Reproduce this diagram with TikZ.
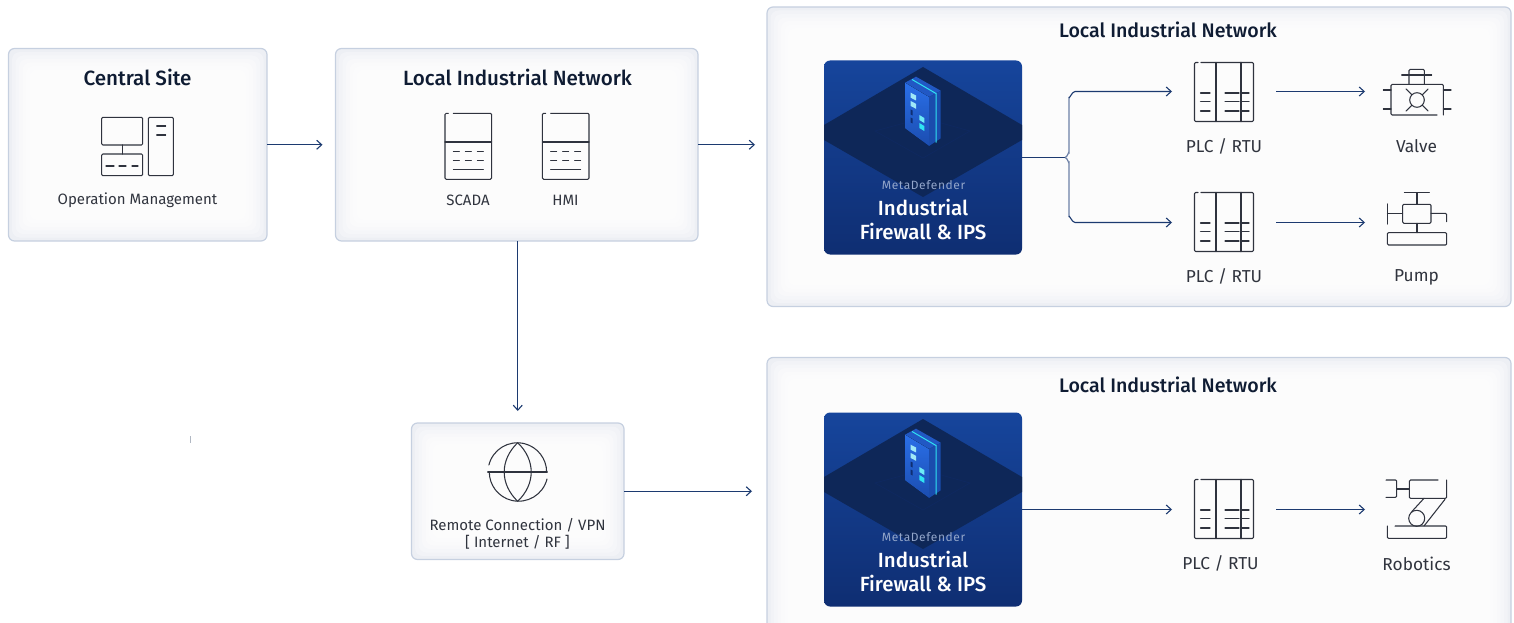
\documentclass[tikz,border=0pt]{standalone}
\usepackage{fontspec}
\usetikzlibrary{arrows.meta,calc}
\setmainfont{Fira Sans}
\newfontfamily\titlefont{Fira Sans Medium}
\definecolor{edgeblue}{HTML}{C6D0E0}
\definecolor{paneltone}{HTML}{EDEFF4}
\definecolor{flow}{HTML}{1C3A70}
\definecolor{flowlight}{HTML}{6C80A6}
\definecolor{ink}{HTML}{2F333E}
\definecolor{titleink}{HTML}{0F1C33}
\definecolor{labelink}{HTML}{30343E}
\definecolor{cardtop}{HTML}{16459C}
\definecolor{cardbot}{HTML}{0F2E72}
\definecolor{diamondc}{HTML}{0E2758}
\definecolor{mdgrey}{HTML}{93A6CA}
\definecolor{cy}{HTML}{2FE3F2}
\definecolor{faceL}{HTML}{2A6FE8}
\definecolor{faceLb}{HTML}{1B4DB0}
\definecolor{faceT}{HTML}{2158C4}
\definecolor{faceR}{HTML}{1A4CAD}
\definecolor{sqlight}{HTML}{9FE8F8}
\tikzset{
  softpanel/.style={draw=edgeblue,line width=1.2pt,fill=paneltone,rounded corners=6pt,inner sep=0pt,outer sep=0pt},
  cardbox/.style={rounded corners=6pt,inner sep=0pt,outer sep=0pt,top color=cardtop,bottom color=cardbot,minimum width=198pt,minimum height=194pt},
  iconnode/.style={inner sep=0pt,outer sep=0pt,minimum width=#1,minimum height=#1},
  iconline/.style={draw=ink,line width=1.05pt,line cap=round,line join=round,rounded corners=1.2pt},
  flowarrow/.style={draw=flow,line width=1.1pt,-{Straight Barb[length=5pt,width=9pt,line width=1.1pt]}},
  titletext/.style={text=titleink,font=\titlefont\fontsize{#1}{#1}\selectfont,inner sep=0pt},
  labeltext/.style={text=labelink,font=\fontsize{15}{15}\selectfont,inner sep=0pt},
  biglabel/.style={text=labelink,font=\fontsize{17.3}{17.3}\selectfont,inner sep=0pt},
}
\newcommand\softbox[5]{%
  \node[softpanel,minimum width={#4-#2},minimum height={#5-#3}] (#1) at ({(#2+#4)/2},{(#3+#5)/2}) {};
  \foreach \stepn [evaluate=\stepn as \ins using 3.5*\stepn] in {1,...,9}
    \fill[white,opacity=.3,rounded corners=8pt] ([shift={(\ins,\ins)}]#1.north west) rectangle ([shift={(-\ins,-\ins)}]#1.south east);
}
\newcommand\plcicon[1]{\begin{scope}[shift={(#1)}]
  \draw[iconline] (-26,-29.5) -- (-29.5,-29.5) -- (-29.5,29.5) -- (29.5,29.5) -- (29.5,-29.5) -- (-23,-29.5);
  \draw[iconline,rounded corners=0pt] (-8,-29.5) -- (-8,29.5);
  \draw[iconline,rounded corners=0pt,line width=1.5pt] (17,-29.5) -- (17,29.5);
  \foreach \yy in {1,9.5,19}{
    \draw[iconline] (-23.5,\yy) -- (-14,\yy);
    \draw[iconline] (1,\yy) -- (15,\yy);
    \draw[iconline] (17,\yy) -- (25,\yy);}
\end{scope}}
\newcommand\servericon[1]{\begin{scope}[shift={(#1)}]
  \draw[iconline] (-20,-33) -- (-23.3,-33) -- (-23.3,33) -- (23.3,33) -- (23.3,-33) -- (-15,-33);
  \draw[iconline,rounded corners=0pt] (-23.3,-4.3) -- (23.3,-4.3);
  \foreach \yy in {5,14}{
    \draw[iconline] (-15,\yy) -- (-9,\yy);
    \draw[iconline] (-3,\yy) -- (3,\yy);
    \draw[iconline] (9,\yy) -- (15,\yy);}
  \draw[iconline] (-15,23.3) -- (15,23.3);
\end{scope}}
\newcommand\fwcard[2]{\begin{scope}[shift={(0,#2)}]
  \node[cardbox] (#1) at (923,157.5) {};
  \fill[diamondc] (923,67) -- (1022,125) -- (1022,140) -- (923,197) -- (824,140) -- (824,125) -- cycle;
  \draw[draw=diamondc!65!cardbot,line width=.6pt] (923,118) -- (970,131) -- (923,158) -- (875,131) -- cycle;
  % server
  \fill[faceT] (916,76.7) -- (940.7,90.7) -- (929,97) -- (905,82.7) -- cycle;
  \fill[top color=faceL,bottom color=faceLb] (905,82.7) -- (929,97) -- (929,146) -- (905,128.3) -- cycle;
  \fill[faceR] (929,97) -- (940.7,90.7) -- (940.7,138.3) -- (929,146) -- cycle;
  \draw[cy,line width=1pt] (912,79.5) -- (936,93.5) -- (936,142.5);
  \fill[sqlight] (910.7,92.7) -- (916,95.5) -- (916,100.5) -- (910.7,97.7) -- cycle;
  \fill[sqlight] (910.7,101) -- (916,103.8) -- (916,108.8) -- (910.7,106) -- cycle;
  \fill[cardbot] (910.7,109.5) -- (912.7,110.5) -- (912.7,115.5) -- (910.7,114.5) -- cycle;
  \fill[cardbot] (910.7,117.5) -- (912.7,118.5) -- (912.7,123.5) -- (910.7,122.5) -- cycle;
  \fill[cy!70!white] (919.3,115) -- (924.3,118) -- (924.3,123) -- (919.3,120) -- cycle;
  \fill[cy] (919.3,123) -- (924.3,126) -- (924.3,131) -- (919.3,128) -- cycle;
  \node[text=mdgrey,font=\fontsize{12}{12}\selectfont\addfontfeature{LetterSpace=5},inner sep=0pt] (#1meta) at (923.5,185.5) {MetaDefender};
  \node[text=white,font=\titlefont\fontsize{20.5}{20.5}\selectfont,inner sep=0pt] (#1ta) at (923,207.5) {Industrial};
  \node[text=white,font=\titlefont\fontsize{20.5}{20.5}\selectfont,inner sep=0pt] (#1tb) at (923,231.5) {Firewall \& IPS};
\end{scope}}
\begin{document}
\begin{tikzpicture}[x=1pt,y=-1pt]
\useasboundingbox (0,0) rectangle (1514,623);
\clip (0,0) rectangle (1514,623);
\softbox{central}{8.5}{48.5}{267}{241}
\softbox{local}{335.5}{48.5}{698}{241}
\softbox{remote}{411.5}{423}{624}{559.5}
\softbox{panelA}{767}{7}{1511}{306.5}
\softbox{panelB}{767}{357.5}{1511}{660}
% titles
\node[titletext=20.6] (tcentral) at (137.5,77.5) {Central Site};
\node[titletext=20.6] (tlocal) at (517.5,77.5) {Local Industrial Network};
\node[titletext=19.6] (tpanelA) at (1168,30) {Local Industrial Network};
\node[titletext=19.6] (tpanelB) at (1168,385) {Local Industrial Network};
% operation management icon
\node[iconnode=60pt] (ops) at (137.5,146.5) {};
\draw[iconline] (101.7,117.3) rectangle (142.7,145);
\draw[iconline] (122.3,145) -- (122.3,154);
\draw[iconline] (101.7,154) rectangle (142.7,175.7);
\foreach \xa/\xb in {106/114,119/126,132/138} \draw[iconline] (\xa,166) -- (\xb,166);
\draw[iconline] (148.3,117.3) rectangle (173.3,175.7);
\draw[iconline] (156.7,126) -- (165.7,126);
\draw[iconline] (156.7,135) -- (165.7,135);
\node[labeltext] (lops) at (137.5,200.5) {Operation Management};
% SCADA / HMI
\node[iconnode=60pt] (scada) at (468.3,146.3) {};
\servericon{468.3,146.3}
\node[iconnode=60pt] (hmi) at (565.7,146.3) {};
\servericon{565.7,146.3}
\node[labeltext] (lscada) at (468,200) {SCADA};
\node[labeltext] (lhmi) at (565.5,200) {HMI};
% globe
\node[iconnode=60pt] (globe) at (517.7,472) {};
\draw[iconline] (488.9,465) arc[start angle=194,end angle=360,radius=29.3];
\draw[iconline] (547,479) arc[start angle=14,end angle=180,radius=29.3];
\draw[iconline] (487.7,472) -- (547.3,472);
\draw[iconline] (517.7,442.7) .. controls (499.7,460) and (499.7,484) .. (517.7,501.3);
\draw[iconline] (517.7,442.7) .. controls (535.7,460) and (535.7,484) .. (517.7,501.3);
\node[labeltext] (lremote) at (517.5,525.5) {Remote Connection / VPN};
\node[labeltext] (lremoteb) at (517.5,542.5) {[ Internet / RF ]};
% firewall cards
\fwcard{cardA}{0}
\fwcard{cardB}{352}
% PLC icons
\node[iconnode=60pt] (plcA) at (1224,91.5) {};
\plcicon{1224,92}
\node[iconnode=60pt] (plcB) at (1224,222.5) {};
\plcicon{1224,222}
\node[iconnode=60pt] (plcC) at (1224,509.5) {};
\plcicon{1224,509}
\node[biglabel] (lplcA) at (1224,146.5) {PLC / RTU};
\node[biglabel] (lplcB) at (1224,276.5) {PLC / RTU};
\node[biglabel] (lplcC) at (1220.5,563.5) {PLC / RTU};
% valve
\node[iconnode=60pt] (valve) at (1417,91.5) {};
\draw[iconline] (1437,115) -- (1391,115) -- (1391,84.3) -- (1443.3,84.3) -- (1443.3,115);
\draw[iconline] (1383.3,90) -- (1391,90);
\draw[iconline] (1383.3,109) -- (1391,109);
\draw[iconline] (1443.3,90) -- (1451,90);
\draw[iconline] (1443.3,109) -- (1451,109);
\draw[iconline] (1401.7,75) -- (1431.7,75);
\draw[iconline] (1409,84.3) -- (1409,69.3) -- (1424.3,69.3) -- (1424.3,84.3);
\draw[iconline] (1417,100) circle[radius=7.3];
\foreach \sx/\sy in {-1/-1,1/-1,-1/1,1/1}
  \draw[iconline] ($(1417,100)+(5.2*\sx,5.2*\sy)$) -- ($(1417,100)+(11*\sx,11*\sy)$);
\node[biglabel] (lvalve) at (1416.5,146.5) {Valve};
% pump
\node[iconnode=60pt] (pump) at (1417,222.5) {};
\draw[iconline] (1404.3,192.7) -- (1429.3,192.7);
\draw[iconline] (1417,192.7) -- (1417,204.3);
\draw[iconline] (1402.7,204.3) rectangle (1431,223.3);
\draw[iconline] (1387.3,204) -- (1387.3,224);
\draw[iconline] (1387.3,213.3) -- (1402.7,213.3);
\draw[iconline] (1431,213.3) -- (1446.7,213.3) -- (1446.7,221.7);
\draw[iconline] (1417,223.3) -- (1417,232.7);
\draw[iconline] (1387.3,232.7) rectangle (1446.7,245);
\node[biglabel] (lpump) at (1416.5,277) {Pump};
% robotics
\node[iconnode=60pt] (robot) at (1417,509.5) {};
\draw[iconline] (1386,480) -- (1396.7,480) -- (1396.7,497.3) -- (1386,497.3);
\draw[iconline] (1396.7,489) -- (1409.3,489);
\draw[iconline] (1438,480) -- (1409.3,480) -- (1409.3,498.3) -- (1446.7,498.3) -- (1446.7,480);
\draw[iconline] (1416.7,518.3) circle[radius=8];
\draw[iconline] (1411.7,511.7) -- (1424,498.3);
\draw[iconline] (1424,526) -- (1445,499.3);
\draw[iconline] (1395,526) -- (1446.7,526) -- (1446.7,538.3) -- (1387.3,538.3) -- (1387.3,526);
\node[biglabel] (lrobot) at (1416.5,563.5) {Robotics};
% stray tick
\coordinate (tickA) at (190.5,436);
\coordinate (tickB) at (190.5,443);
\draw[edgeblue!70!gray,line width=.8pt] (tickA) -- (tickB);
% connectors
\draw[flowarrow,shorten >=13pt] (central.east) -- (local.west);
\draw[flowarrow,shorten >=12pt] (local.east) -- (local.east -| panelA.west);
\draw[flowarrow,shorten >=12pt] (remote.north |- local.south) -- (remote.north);
\draw[flowarrow,shorten >=15pt] (remote.east) -- (remote.east -| panelB.west);
\coordinate (fork) at (1065,157.5);
\coordinate (forkup) at (1069,97);
\coordinate (forkdown) at (1069,217);
\draw[draw=flow,line width=1.2pt] (cardA.east) -- (fork);
\draw[draw=flowlight,line width=1.2pt] (fork) to[out=0,in=90] (1069,152.5) -- (forkup);
\draw[draw=flowlight,line width=1.2pt] (fork) to[out=0,in=-90] (1069,162.5) -- (forkdown);
\draw[flowarrow,shorten >=22pt] (forkup) to[out=-90,in=180] (1075,91.5) -- (plcA.west);
\draw[flowarrow,shorten >=22pt] (forkdown) to[out=90,in=180] (1075,222.5) -- (plcB.west);
\draw[flowarrow,shorten >=22pt] (cardB.east) -- (plcC.west);
\draw[flowarrow,shorten <=22pt,shorten >=22pt] (plcA.east) -- (valve.west);
\draw[flowarrow,shorten <=22pt,shorten >=22pt] (plcB.east) -- (pump.west);
\draw[flowarrow,shorten <=22pt,shorten >=22pt] (plcC.east) -- (robot.west);
\end{tikzpicture}
\end{document}
